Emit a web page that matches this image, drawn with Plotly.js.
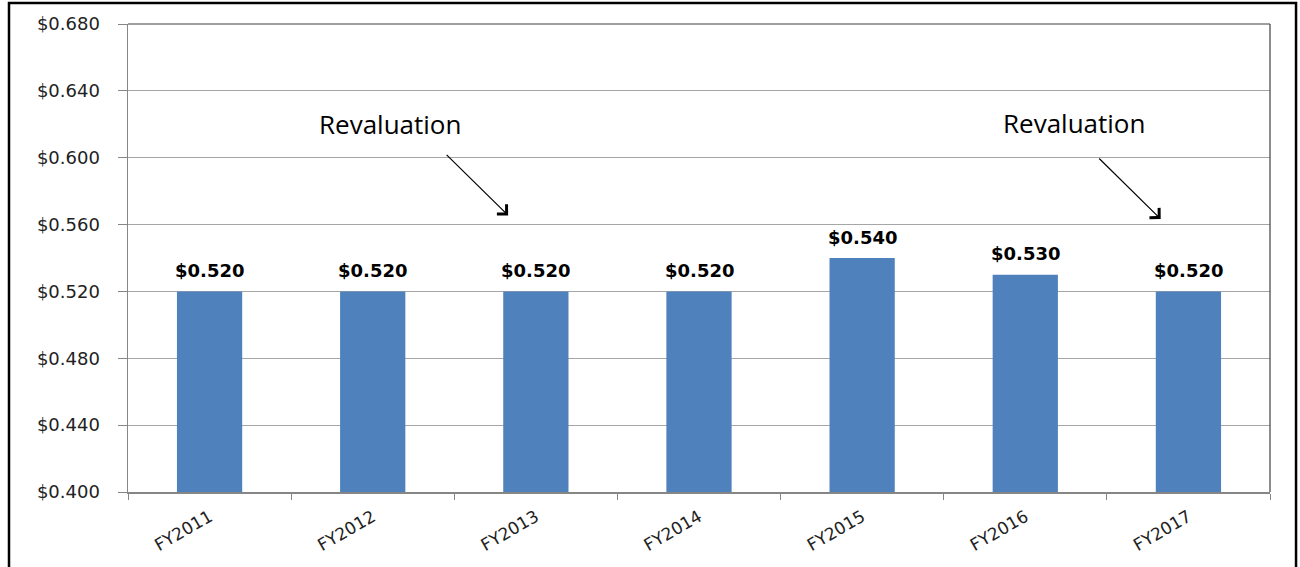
<!DOCTYPE html>
<html>
<head>
<meta charset="utf-8">
<script src="https://cdn.plot.ly/plotly-3.0.1.min.js"></script>
<style>
html,body{margin:0;padding:0;background:#fff;}
#chart{width:1300px;height:567px;}
</style>
</head>
<body>
<div id="chart"></div>
<script>
const categories = ["FY2011","FY2012","FY2013","FY2014","FY2015","FY2016","FY2017"];
const values = [0.520, 0.520, 0.520, 0.520, 0.540, 0.530, 0.520];
const valueLabels = ["$0.520","$0.520","$0.520","$0.520","$0.540","$0.530","$0.520"];
const yTickVals = [0.400,0.440,0.480,0.520,0.560,0.600,0.640,0.680];
const yTickText = ["$0.400","$0.440","$0.480","$0.520","$0.560","$0.600","$0.640","$0.680"];
const noteText = "Revaluation";
const noteCategories = ["FY2013","FY2017"];

const trace = {
  type: "bar",
  x: categories,
  y: values,
  marker: {color: "#4F81BD", line: {width: 0}},
  hoverinfo: "skip"
};

const annotations = [];
categories.forEach((c, i) => {
  annotations.push({
    x: c, y: values[i], xref: "x", yref: "y",
    text: "<b>" + valueLabels[i] + "</b>", showarrow: false,
    yanchor: "middle", yshift: 21,
    font: {family: "DejaVu Sans", size: 18, color: "#000"}
  });
});
const noteHeads = [[-0.17, 0.5655, -118, 91], [-0.17, 0.5633, -87, 96]];
noteCategories.forEach((c, k) => {
  const idx = categories.indexOf(c);
  const h = noteHeads[k];
  annotations.push({
    x: idx + h[0], y: h[1], xref: "x", yref: "y",
    ax: -63, ay: -62, axref: "pixel", ayref: "pixel",
    text: "", showarrow: true, arrowhead: 4, arrowsize: 2.2,
    arrowwidth: 1.2, arrowcolor: "#000", standoff: 0
  });
  annotations.push({
    x: idx + h[0], y: h[1], xref: "x", yref: "y",
    xshift: h[2], yshift: h[3],
    text: noteText, showarrow: false,
    xanchor: "center", yanchor: "middle",
    font: {family: "Open Sans", size: 26, color: "#000"}
  });
});

const layout = {
  width: 1300, height: 567,
  margin: {l: 128, r: 30, t: 24, b: 75},
  paper_bgcolor: "#fff", plot_bgcolor: "#fff",
  showlegend: false,
  bargap: 0.6,
  xaxis: {
    type: "category",
    tickangle: -30,
    ticks: "outside", tickson: "boundaries", ticklen: 6, tickcolor: "#868686",
    showline: true, linecolor: "#868686", linewidth: 1.5,
    tickfont: {family: "DejaVu Sans", size: 17, color: "#222"},
    ticklabelstandoff: 7,
    showgrid: false, zeroline: false, fixedrange: true
  },
  yaxis: {
    range: [0.400, 0.680],
    tickvals: yTickVals, ticktext: yTickText,
    ticks: "outside", ticklen: 9, tickcolor: "#868686",
    showline: true, linecolor: "#868686", linewidth: 1.5,
    showgrid: true, gridcolor: "#a6a6a6", gridwidth: 1,
    tickfont: {family: "DejaVu Sans", size: 18, color: "#222"},
    ticklabelstandoff: 14,
    zeroline: false, fixedrange: true
  },
  annotations: annotations,
  shapes: [
    {type: "line", xref: "paper", yref: "paper", x0: 0, x1: 1, y0: 1, y1: 1,
     line: {color: "#404040", width: 1.2}},
    {type: "line", xref: "paper", yref: "paper", x0: 1, x1: 1, y0: 0, y1: 1,
     line: {color: "#404040", width: 1.2}},
    {type: "rect", xref: "paper", yref: "paper",
     x0: -0.1042, x1: 1.0228, y0: -0.2, y1: 1.0449,
     line: {color: "#000", width: 2.5}, fillcolor: "rgba(0,0,0,0)"}
  ]
};

Plotly.newPlot("chart", [trace], layout, {displayModeBar: false, staticPlot: true});
</script>
</body>
</html>
